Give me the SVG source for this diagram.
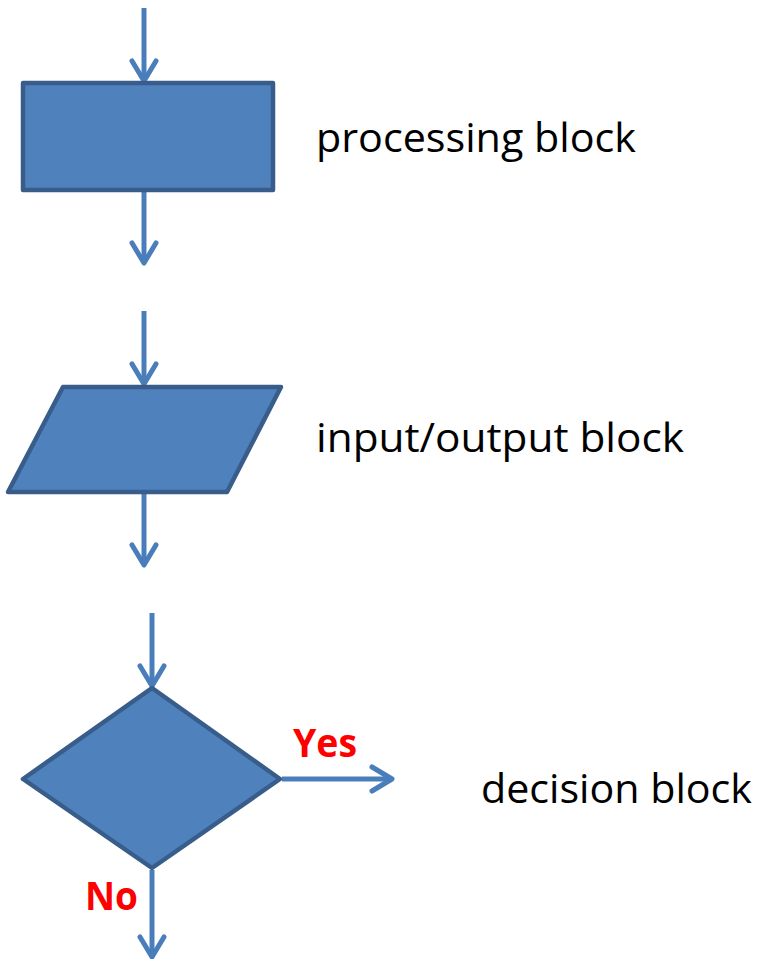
<svg xmlns="http://www.w3.org/2000/svg" width="758" height="959" viewBox="0 0 758 959">
  <style>
    .shape { fill: #4F81BD; stroke: #385D8A; stroke-width: 4.5; stroke-linejoin: round; }
    .flow { stroke: #4A7EBB; stroke-width: 5; fill: none; marker-end: url(#chevron); }
    .label { font-family: "Open Sans", "Liberation Sans", sans-serif; font-size: 41px; fill: #000000; }
    .answer { font-family: "Open Sans", "Liberation Sans", sans-serif; font-size: 39px; font-weight: bold; fill: #FF0000; }
  </style>
  <defs>
    <marker id="chevron" markerUnits="userSpaceOnUse" viewBox="-24 -16 28 32" refX="0" refY="0" markerWidth="28" markerHeight="32" orient="auto" overflow="visible">
      <path d="M -20 -12 L 0 0 L -20 12" fill="none" stroke="#4A7EBB" stroke-width="5" stroke-linecap="round" stroke-linejoin="round"/>
    </marker>
  </defs>

  <g id="connectors">
    <line class="flow" x1="144" y1="8" x2="144" y2="81"/>
    <line class="flow" x1="144" y1="192" x2="144" y2="263"/>
    <line class="flow" x1="144" y1="311" x2="144" y2="384"/>
    <line class="flow" x1="144" y1="493" x2="144" y2="565"/>
    <line class="flow" x1="152" y1="613" x2="152" y2="686"/>
    <line class="flow" x1="282" y1="779" x2="392" y2="779"/>
    <line class="flow" x1="152" y1="870" x2="152" y2="957"/>
  </g>

  <g id="processing">
    <rect class="shape" x="23" y="83" width="250" height="107"/>
    <text class="label" x="316" y="152" textLength="320" lengthAdjust="spacingAndGlyphs">processing block</text>
  </g>

  <g id="input-output">
    <polygon class="shape" points="63,387 281,387 227,492 8,492"/>
    <text class="label" x="316" y="452" textLength="368" lengthAdjust="spacingAndGlyphs">input/output block</text>
  </g>

  <g id="decision">
    <polygon class="shape" points="152,688 280,779 152,868 23,779"/>
    <text class="label" x="481" y="803" textLength="271" lengthAdjust="spacingAndGlyphs">decision block</text>
    <text class="answer" x="293" y="757" textLength="64" lengthAdjust="spacingAndGlyphs">Yes</text>
    <text class="answer" x="85" y="910" textLength="53" lengthAdjust="spacingAndGlyphs">No</text>
  </g>
</svg>
